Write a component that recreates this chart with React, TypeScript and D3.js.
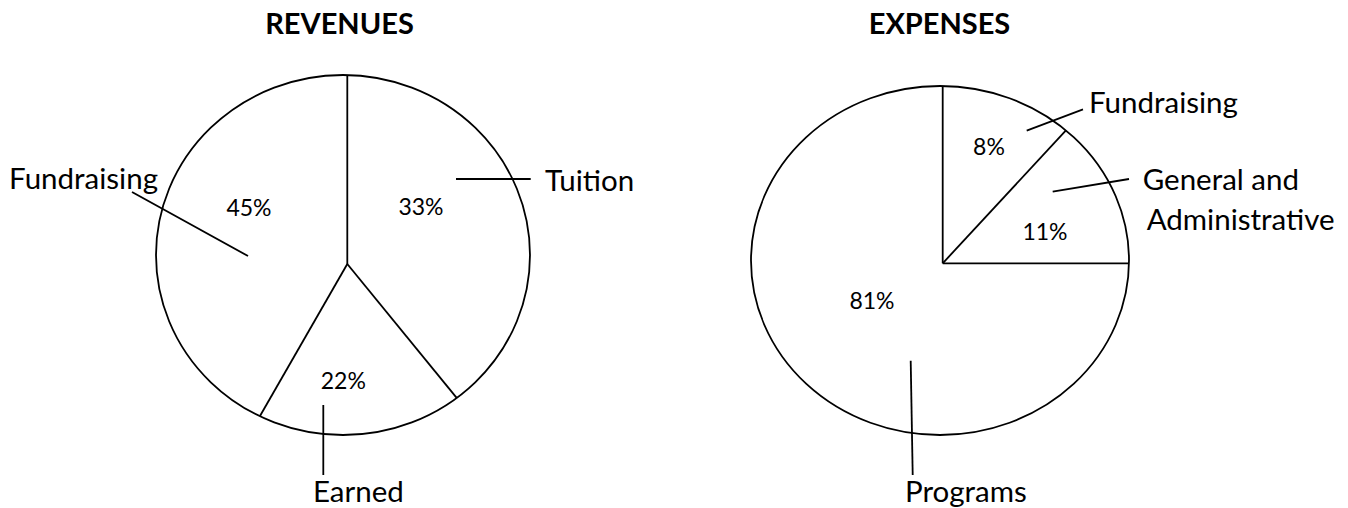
import React from "react";
import * as d3 from "d3";

// ---- data ----
const revenueTitle = "REVENUES";
const revenueCategories = ["Tuition", "Earned", "Fundraising"];
const revenuePercentLabels = ["33%", "22%", "45%"];
// slice sizes as drawn in the picture (angle share at the centre)
const revenueSliceShares = [39.1, 19.2, 41.7];

const expenseTitle = "EXPENSES";
const expenseCategories = ["Fundraising", "General and Administrative", "Programs"];
const expenseCategoryLines = [["Fundraising"], ["General and", "Administrative"], ["Programs"]];
const expensePercentLabels = ["8%", "11%", "81%"];
const expenseSliceShares = [11.9, 13.1, 75.0];

// ---- layout ----
const W = 1348;
const H = 508;
const FONT = "Lato, 'Open Sans', sans-serif";

type Pt = [number, number];
interface PieLayout {
  cx: number; cy: number; rx: number; ry: number; vx: number; vy: number;
  titleX: number;
  pct: Pt[];
  cat: { x: number; y: number; anchor: "start" | "end" | "middle"; dx?: number[] }[];
  leaders: [Pt, Pt][];
}

const revLayout: PieLayout = {
  cx: 343, cy: 255, rx: 187, ry: 180, vx: 347.3, vy: 264,
  titleX: 339.5,
  pct: [[421, 215], [343.3, 388.5], [249, 216]],
  cat: [
    { x: 545, y: 190.5, anchor: "start" },
    { x: 313, y: 501.5, anchor: "start" },
    { x: 158, y: 188.5, anchor: "end" },
  ],
  leaders: [
    [[456, 179], [530.7, 179]],
    [[323.3, 405], [323.3, 475]],
    [[248, 256], [132, 192]],
  ],
};

const expLayout: PieLayout = {
  cx: 940, cy: 260.5, rx: 189, ry: 174.5, vx: 942.7, vy: 263.3,
  titleX: 939.5,
  pct: [[989, 155], [1045, 240], [872, 309]],
  cat: [
    { x: 1089, y: 112.7, anchor: "start" },
    { x: 1142.7, y: 190, anchor: "start", dx: [0, 4] },
    { x: 905, y: 501.5, anchor: "start" },
  ],
  leaders: [
    [[1026.7, 130.7], [1083, 109.3]],
    [[1052.7, 191.7], [1129, 179]],
    [[910.7, 360.7], [912.7, 475]],
  ],
};

// intersection of a ray from the vertex with the ellipse outline
function rayToEllipse(L: PieLayout, angle: number): Pt {
  const dx = Math.sin(angle);
  const dy = -Math.cos(angle);
  const px = L.vx - L.cx;
  const py = L.vy - L.cy;
  const a = (dx * dx) / (L.rx * L.rx) + (dy * dy) / (L.ry * L.ry);
  const b = 2 * ((px * dx) / (L.rx * L.rx) + (py * dy) / (L.ry * L.ry));
  const c = (px * px) / (L.rx * L.rx) + (py * py) / (L.ry * L.ry) - 1;
  const t = (-b + Math.sqrt(b * b - 4 * a * c)) / (2 * a);
  return [L.vx + t * dx, L.vy + t * dy];
}

const pieGen = d3.pie<number>().sort(null).value((d) => d).startAngle(0).endAngle(2 * Math.PI);

function PieChart({
  title, shares, pctLabels, catLines, L,
}: {
  title: string; shares: number[]; pctLabels: string[]; catLines: string[][]; L: PieLayout;
}) {
  const arcs = pieGen(shares);
  const line = d3.line();
  const stroke = "#000";
  return (
    <g>
      <text x={L.titleX} y={34} textAnchor="middle" fontFamily={FONT} fontWeight={700} fontSize={29} fill="#000">
        {title}
      </text>
      <ellipse cx={L.cx} cy={L.cy} rx={L.rx} ry={L.ry} fill="#fff" stroke={stroke} strokeWidth={1.8} />
      {arcs.map((a, i) => {
        const end = rayToEllipse(L, a.startAngle);
        return (
          <path key={"s" + i} d={line([[L.vx, L.vy], end]) || ""} stroke={stroke} strokeWidth={1.8} fill="none" />
        );
      })}
      {arcs.map((a, i) => (
        <text key={"p" + i} x={L.pct[i][0]} y={L.pct[i][1]} textAnchor="middle" fontFamily={FONT} fontSize={23} fill="#000">
          {pctLabels[i]}
        </text>
      ))}
      {L.leaders.map((seg, i) => (
        <path key={"l" + i} d={line(seg) || ""} stroke={stroke} strokeWidth={1.8} fill="none" />
      ))}
      {catLines.map((lines, i) => (
        <text key={"c" + i} x={L.cat[i].x} y={L.cat[i].y} textAnchor={L.cat[i].anchor} fontFamily={FONT} fontSize={29.5} fill="#000">
          {lines.map((t, j) => (
            <tspan key={j} x={L.cat[i].x + (L.cat[i].dx ? L.cat[i].dx![j] : 0)} dy={j === 0 ? 0 : 40}>
              {t}
            </tspan>
          ))}
        </text>
      ))}
    </g>
  );
}

export default function App() {
  return (
    <svg
      width={W}
      height={H}
      viewBox={`0 0 ${W} ${H}`}
      style={{ position: "absolute", left: 0, top: 0, background: "#fff" }}
    >
      <rect x={0} y={0} width={W} height={H} fill="#fff" />
      <PieChart
        title={revenueTitle}
        shares={revenueSliceShares}
        pctLabels={revenuePercentLabels}
        catLines={revenueCategories.map((c) => [c])}
        L={revLayout}
      />
      <PieChart
        title={expenseTitle}
        shares={expenseSliceShares}
        pctLabels={expensePercentLabels}
        catLines={expenseCategoryLines}
        L={expLayout}
      />
      <desc>{expenseCategories.join(", ")}</desc>
    </svg>
  );
}
